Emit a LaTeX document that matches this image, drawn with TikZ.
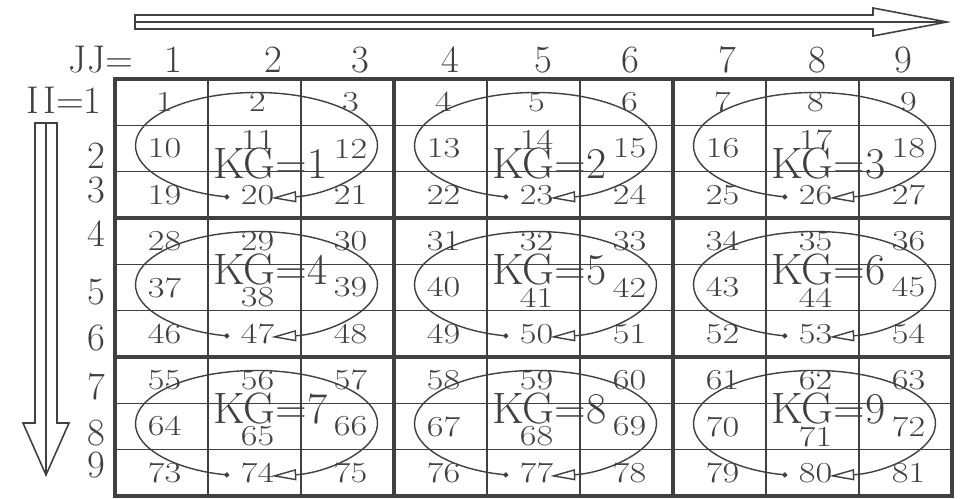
\documentclass[tikz,border=0pt]{standalone}
\usepackage{graphicx}
\usepackage{tikz}
\usetikzlibrary{arrows.meta,calc}
\definecolor{ink}{gray}{0.25}

\begin{document}
\begin{tikzpicture}[
  x=0.02cm, y=-0.02cm,
  thin grid/.style={draw=ink, line width=0.9pt},
  thick grid/.style={draw=ink, line width=2.6pt},
  head/.style={font=\fontsize{22}{22}\selectfont, text=ink, inner sep=0pt},
  cellnum/.style={font=\fontsize{16.5}{16.5}\selectfont, text=ink, inner sep=0pt},
  kg/.style={font=\fontsize{25}{25}\selectfont, text=ink, inner sep=0pt},
  loop/.style={draw=ink, line width=0.8pt,
               {Circle[length=1mm]}-{Triangle[open, length=5mm, width=2.2mm]}},
  bigarrow/.style={draw=ink, line width=0.9pt, line join=miter}
]
\useasboundingbox (0,0) rectangle (961,499);

% grid
\foreach \k in {1,2,4,5,7,8} {
  \draw[thin grid] (115+93*\k,79) -- (115+93*\k,496);
  \draw[thin grid] (115,79+46.33*\k) -- (952,79+46.33*\k);
}
\foreach \k in {3,6} {
  \draw[thick grid] (115+93*\k,79) -- (115+93*\k,496);
  \draw[thick grid] (115,79+46.33*\k) -- (952,79+46.33*\k);
}
\draw[thick grid] (115,79) rectangle (952,496);

% cell numbers
\foreach \r in {1,...,9}
  \foreach \c in {1,...,9} {
    \pgfmathtruncatemacro\n{9*(\r-1)+\c}
    \pgfmathsetmacro\dy{(mod(\r,3)==2)*(mod(\c,3)==2)*(10-19*(\r==2))}
    \node[cellnum] (n\n) at ({115+93*(\c-0.5)+3}, {79+46.33*(\r-0.5)+\dy}) {\scalebox{1.25}[1]{\n}};
  }

% blocks
\foreach \bi in {0,1,2}
  \foreach \bj in {0,1,2} {
    \pgfmathtruncatemacro\b{3*\bi+\bj+1}
    \pgfmathsetmacro\ky{15-33*(\bi>0)}
    \coordinate (o\b) at ({115+93*(3*\bj+1.5)+2}, {79+46.33*(3*\bi+1.5)-3});
    \draw[loop] (o\b) ++(103:121 and 53) arc[start angle=103, end angle=443, x radius=121, y radius=53];
    \node[kg] (kg\b) at ($(o\b)+(14,\ky+3)$) {KG=\b};
  }

% indices
\node[head] (jj) at (101,60) {JJ=};
\foreach \c/\x in {1/173,2/273,3/360,4/450,5/543,6/630,7/727,8/817,9/903}
  \node[head] (col\c) at (\x,60) {\c};
\node[head, anchor=east] (ii) at (102,100) {I\hspace{0.12em}I=1};
\foreach \r/\y in {2/156,3/190,4/234,5/292,6/338,7/387,8/433,9/465}
  \node[head] (row\r) at (96,\y) {\r};

% direction arrows
\draw[bigarrow] (135,15) -- (873,15) -- (873,8) -- (947,22) -- (873,36) -- (873,29) -- (135,29) -- cycle;
\draw[bigarrow] (135,22) -- (947,22);
\draw[bigarrow] (35,123) -- (57,123) -- (57,423) -- (69,423) -- (46,475) -- (23,423) -- (35,423) -- cycle;
\draw[bigarrow] (46,123) -- (46,475);
\end{tikzpicture}
\end{document}
